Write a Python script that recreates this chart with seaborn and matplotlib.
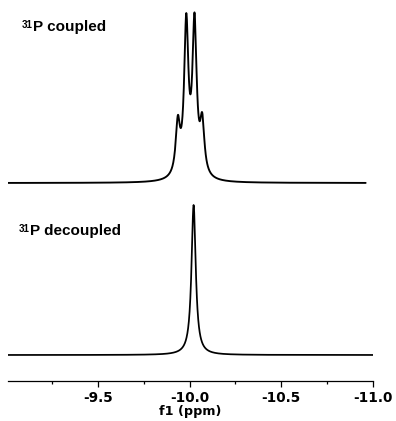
import numpy as np
import pandas as pd
import matplotlib
matplotlib.use("Agg")
import matplotlib.pyplot as plt
import seaborn as sns

# ---- data ----
coupled_shifts = [-9.936, -9.982, -10.027, -10.069]   # ppm
coupled_heights = [51, 151, 151, 51]                   # arb. units
decoupled_shifts = [-10.022]
decoupled_heights = [150]
line_hwhm = 0.014                                      # Lorentzian half width (ppm)
coupled_offset = 172                                   # vertical stacking offset
coupled_range = (-9.01, -10.96)
decoupled_range = (-9.01, -11.0)
major_ticks = [-9.5, -10.0, -10.5, -11.0]
major_labels = ["-9.5", "-10.0", "-10.5", "-11.0"]
minor_ticks = [-9.25, -9.75, -10.25, -10.75]
trace_labels = ["P coupled", "P decoupled"]


def spectrum(x, shifts, heights, hwhm):
    y = np.zeros_like(x)
    for s, h in zip(shifts, heights):
        y += h / (1 + ((x - s) / hwhm) ** 2)
    return y


x_c = np.linspace(coupled_range[0], coupled_range[1], 3000)
x_d = np.linspace(decoupled_range[0], decoupled_range[1], 3000)
df_c = pd.DataFrame({"ppm": x_c,
                     "intensity": spectrum(x_c, coupled_shifts, coupled_heights, line_hwhm) + coupled_offset})
df_d = pd.DataFrame({"ppm": x_d,
                     "intensity": spectrum(x_d, decoupled_shifts, decoupled_heights, line_hwhm)})

sns.set_style("white")
plt.rcParams["font.family"] = ["DejaVu Sans"]
plt.rcParams["axes.unicode_minus"] = False
plt.rcParams["text.color"] = "black"
plt.rcParams["axes.labelcolor"] = "black"

W, H = 396, 421
fig = plt.figure(figsize=(W / 100, H / 100), dpi=100)
ax = fig.add_axes([8 / W, 40 / H, 365 / W, 371 / H])

sns.lineplot(data=df_c, x="ppm", y="intensity", color="black", lw=1.35, ax=ax, estimator=None)
sns.lineplot(data=df_d, x="ppm", y="intensity", color="black", lw=1.25, ax=ax, estimator=None)

ax.set_xlim(-9.01, -11.0)
ax.set_ylim(-26, 345)
sns.despine(ax=ax, left=True)
ax.set_yticks([])
ax.set_ylabel("")
ax.spines["bottom"].set_linewidth(0.9)
ax.spines["bottom"].set_color("black")

ax.set_xticks(major_ticks)
ax.set_xticklabels(major_labels, fontsize=9.8, fontweight="bold")
ax.set_xticks(minor_ticks, minor=True)
ax.tick_params(axis="x", which="major", bottom=True, length=4, width=0.9,
               direction="out", pad=3.5, colors="black")
ax.tick_params(axis="x", which="minor", bottom=True, length=2, width=0.9,
               direction="out", colors="black")
ax.set_xlabel("f1 (ppm)", fontsize=9.2, fontweight="bold", labelpad=0, color="black")

# trace labels with superscript 31
lab_font = ["Liberation Sans", "DejaVu Sans"]
fig.text(22 / W, 1 - 28.5 / H, "31", fontsize=7, fontweight="bold", family=lab_font, va="baseline", color="black")
fig.text(33 / W, 1 - 31 / H, trace_labels[0], fontsize=11, fontweight="bold", family=lab_font, va="baseline", color="black")
fig.text(18.5 / W, 1 - 231.5 / H, "31", fontsize=7, fontweight="bold", family=lab_font, va="baseline", color="black")
fig.text(30 / W, 1 - 234.5 / H, trace_labels[1], fontsize=11, fontweight="bold", family=lab_font, va="baseline", color="black")

fig.savefig("out.png", dpi=100)
